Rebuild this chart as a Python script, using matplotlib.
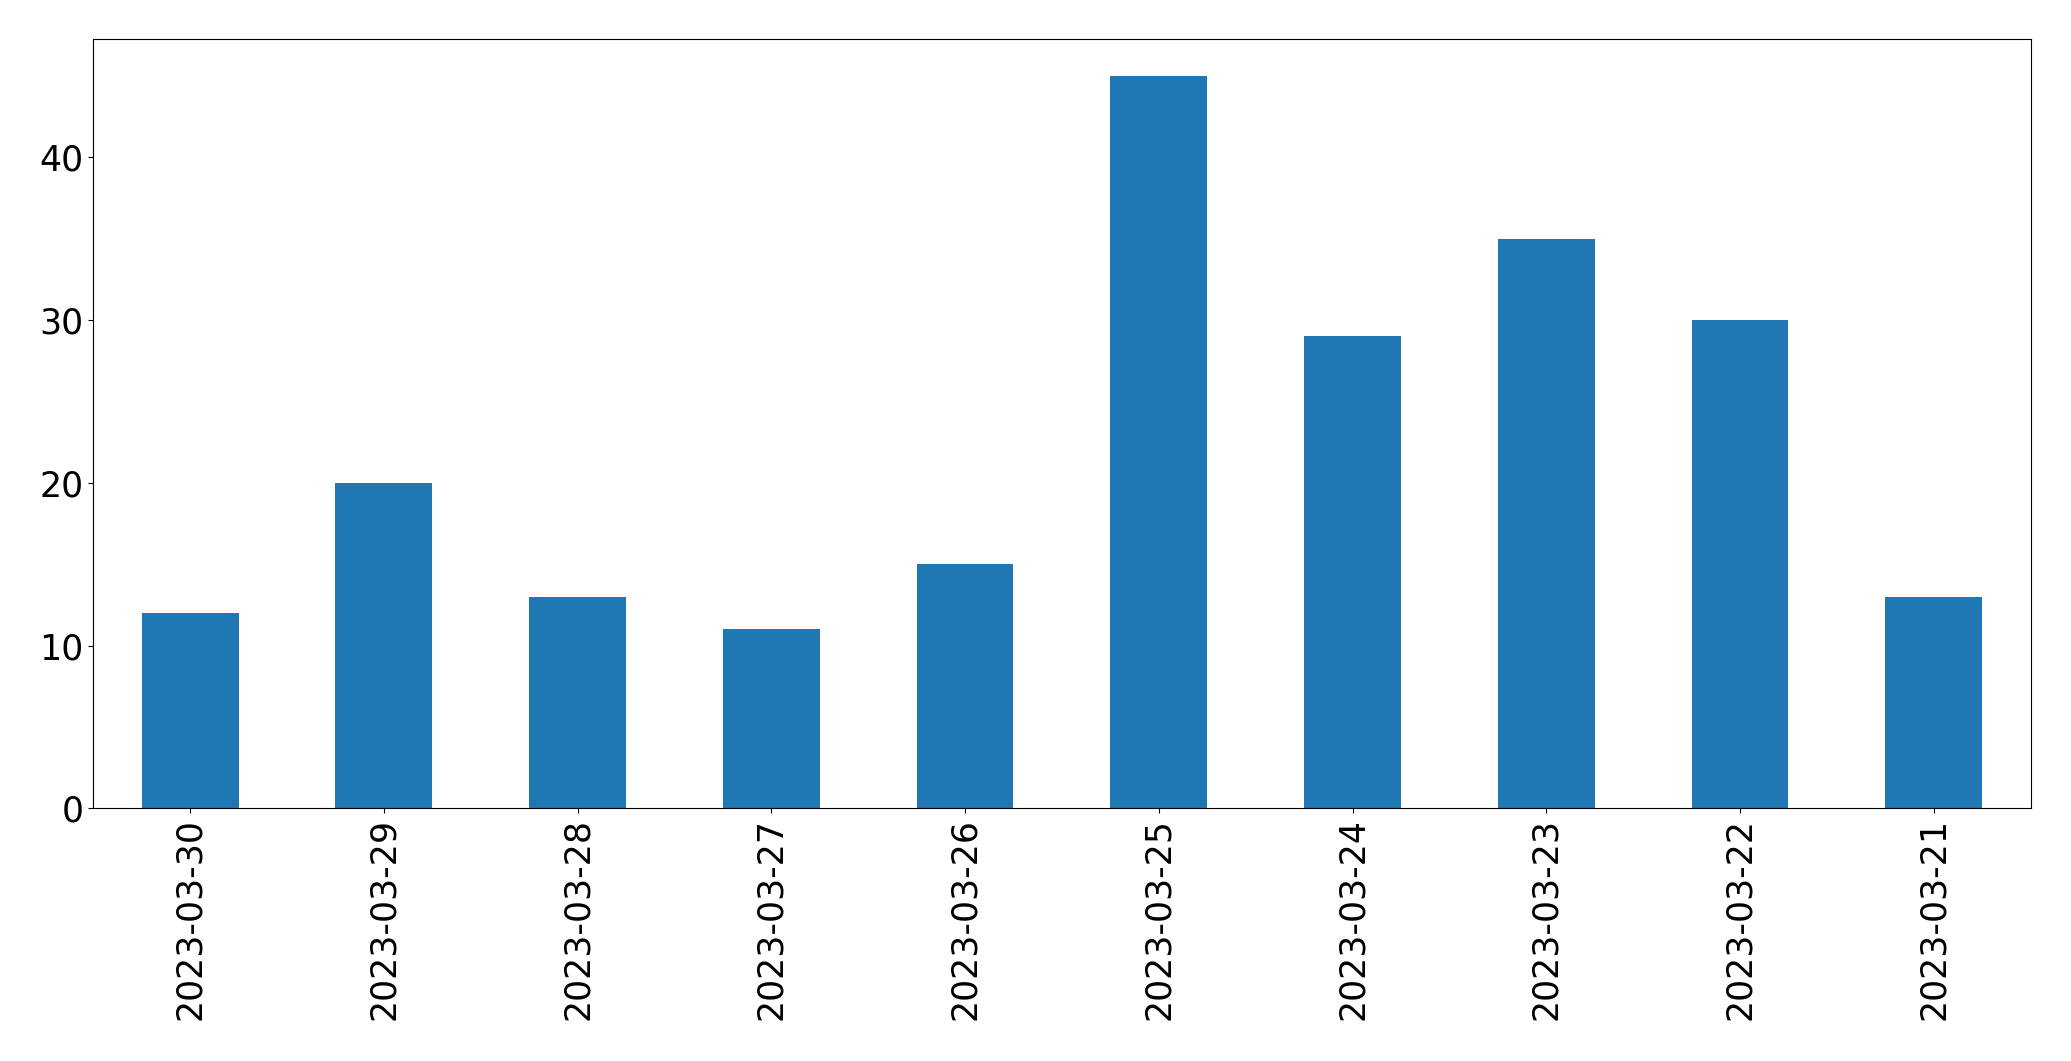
import matplotlib
matplotlib.use("Agg")
import matplotlib.pyplot as plt
import numpy as np

dates = ["2023-03-30", "2023-03-29", "2023-03-28", "2023-03-27", "2023-03-26",
         "2023-03-25", "2023-03-24", "2023-03-23", "2023-03-22", "2023-03-21"]
counts = [12, 20, 13, 11, 15, 45, 29, 35, 30, 13]

fig, ax = plt.subplots(figsize=(20.71, 10.61), dpi=100)
x = np.arange(len(dates))
ax.bar(x, counts, width=0.5, color="#1f77b4")
ax.set_xticks(x)
ax.set_xticklabels(dates, rotation=90)
ax.set_xlim(-0.5, len(dates) - 0.5)
ax.set_ylim(0, max(counts) * 1.05)
ax.tick_params(labelsize=25)
fig.subplots_adjust(left=0.045, right=0.9805, top=0.963, bottom=0.238)
fig.savefig("out.png", dpi=100)
